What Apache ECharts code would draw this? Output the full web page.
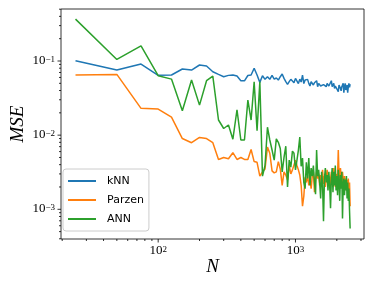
<!DOCTYPE html>
<html><head><meta charset="utf-8">
<script src="https://cdn.jsdelivr.net/npm/echarts@6/dist/echarts.min.js"></script>
<style>html,body{margin:0;padding:0;background:#fff}#c{width:373px;height:282px}</style>
</head><body><div id="c"></div>
<script>
const nValues = [25,50,75,100,125,150,175,200,225,250,275,300,325,350,375,400,425,450,475,500,
525,550,575,600,625,650,675,700,725,750,775,800,825,850,875,900,925,950,975,1000,
1025,1050,1075,1100,1125,1150,1175,1200,1225,1250,1275,1300,1325,1350,1375,1400,1425,1450,1475,1500,
1525,1550,1575,1600,1625,1650,1675,1700,1725,1750,1775,1800,1825,1850,1875,1900,1925,1950,1975,2000,
2025,2050,2075,2100,2125,2150,2175,2200,2225,2250,2275,2300,2325,2350,2375,2400,2425,2450,2475,2500];

const knn = [0.101,0.0756,0.091,0.064,0.0647,0.078,0.0755,0.0883,0.0856,0.0717,
0.066,0.0614,0.064,0.0647,0.0626,0.0542,0.054,0.0637,0.0647,0.0797,
0.0647,0.0515,0.0633,0.0566,0.0614,0.0566,0.064,0.057,0.059,0.0553,
0.0614,0.0667,0.0583,0.0526,0.0484,0.0526,0.0566,0.054,0.051,0.0583,
0.0553,0.0497,0.057,0.052,0.0647,0.0497,0.0553,0.052,0.0565,0.0499,
0.046,0.0525,0.0542,0.0474,0.0509,0.0489,0.0542,0.045,0.0499,0.0474,
0.046,0.0441,0.045,0.048,0.0474,0.046,0.045,0.0499,0.0525,0.046,
0.0441,0.0474,0.0542,0.045,0.0474,0.0499,0.0427,0.046,0.0441,0.0422,
0.0414,0.0385,0.0474,0.0499,0.0427,0.0397,0.045,0.0468,0.0499,0.0373,
0.045,0.0499,0.0406,0.0385,0.0474,0.0373,0.045,0.0499,0.0441,0.0489];

const parzen = [0.0647,0.066,0.023,0.0225,0.0175,0.009,0.0079,0.0093,0.009,0.0079,
0.0047,0.005,0.0048,0.0058,0.0047,0.005,0.0047,0.0047,0.0064,0.0044,
0.0043,0.0028,0.0032,0.0035,0.0069,0.0057,0.0033,0.0031,0.0032,0.0044,
0.0035,0.0021,0.0032,0.0029,0.0025,0.0039,0.003,0.0034,0.0035,0.0046,
0.0039,0.0034,0.0029,0.0021,0.0011,0.0015,0.0027,0.0023,0.0029,0.0021,
0.0025,0.0019,0.0028,0.0032,0.0017,0.0025,0.0032,0.0026,0.003,0.0021,
0.0029,0.0025,0.0034,0.0022,0.0028,0.002,0.0026,0.0034,0.0023,0.0028,
0.0019,0.0025,0.0032,0.0021,0.0029,0.0036,0.0025,0.002,0.003,0.0023,
0.0028,0.0063,0.003,0.0026,0.0036,0.0028,0.0023,0.0032,0.0025,0.002,
0.0028,0.0022,0.0026,0.0018,0.0025,0.002,0.0026,0.0017,0.0023,0.0011];

const ann = [0.367,0.105,0.16,0.0633,0.057,0.0213,0.0553,0.0254,0.0542,0.0626,
0.016,0.0123,0.0137,0.0088,0.022,0.0086,0.0086,0.0297,0.016,0.0525,
0.0115,0.0525,0.0028,0.0039,0.0128,0.0086,0.0063,0.0046,0.0089,0.008,
0.0066,0.0032,0.005,0.0071,0.002,0.0046,0.0037,0.0061,0.0057,0.0034,
0.0046,0.0063,0.0094,0.0038,0.0049,0.0023,0.0019,0.0043,0.0026,0.0049,
0.0021,0.0036,0.0028,0.0039,0.0023,0.0016,0.0063,0.0028,0.0034,0.0023,
0.0014,0.0032,0.0021,0.00069,0.0026,0.0036,0.0023,0.0029,0.0018,0.0032,
0.0021,0.00103,0.0026,0.0036,0.0017,0.0032,0.0021,0.0039,0.0018,0.0028,
0.00155,0.0034,0.0023,0.0013,0.0029,0.0019,0.0032,0.00075,0.0021,0.0026,
0.00155,0.0025,0.0018,0.0028,0.0014,0.0023,0.0013,0.0019,0.00097,0.00055];

const seriesNames = ['kNN', 'Parzen', 'ANN'];
const seriesColors = ['#1f77b4', '#ff7f0e', '#2ca02c'];
const xTickMajor = [100, 1000];
const yTickMajor = [0.001, 0.01, 0.1];

const X_MIN = 19.6, X_MAX = 3155;
const Y_MIN = 3.976e-4, Y_MAX = 0.5027;

function minorTicks(lo, hi) {
  const out = [];
  for (let e = -5; e <= 5; e++) {
    for (let k = 2; k <= 9; k++) {
      const v = k * Math.pow(10, e);
      if (v >= lo && v <= hi) out.push(v);
    }
  }
  return out;
}
const xTickMinor = minorTicks(X_MIN, X_MAX);
const yTickMinor = minorTicks(Y_MIN, Y_MAX);

function powLabel(v) {
  const l = Math.log10(v);
  const e = Math.round(l);
  if (Math.abs(l - e) > 1e-6) return '';
  return '{b|10}{s|' + (e < 0 ? '\u2212' : '') + Math.abs(e) + '}';
}
const richLab = {
  b: { fontFamily: 'Liberation Serif', fontSize: 13, lineHeight: 12, color: '#000', verticalAlign: 'bottom' },
  s: { fontFamily: 'Liberation Serif', fontSize: 9, lineHeight: 12, color: '#000', verticalAlign: 'top' }
};

function tickSeries(values, axis, len) {
  return {
    type: 'custom', silent: true, clip: false, z: 10,
    data: values.map(v => axis === 'x' ? [v, Y_MIN] : [X_MIN, v]),
    renderItem: (params, api) => {
      const p = api.coord([api.value(0), api.value(1)]);
      const shape = axis === 'x'
        ? { x1: p[0], y1: p[1], x2: p[0], y2: p[1] + len }
        : { x1: p[0], y1: p[1], x2: p[0] - len, y2: p[1] };
      return { type: 'line', shape: shape, style: { stroke: '#000', lineWidth: 0.8 } };
    }
  };
}

const lineSeries = [knn, parzen, ann].map((arr, i) => ({
  name: seriesNames[i],
  type: 'line',
  showSymbol: false,
  symbol: 'none',
  data: nValues.map((n, j) => [n, arr[j]]),
  lineStyle: { color: seriesColors[i], width: 1.5 },
  itemStyle: { color: seriesColors[i] },
  z: 3 + i
}));

const chart = echarts.init(document.getElementById('c'), null, { renderer: 'canvas' });
chart.setOption({
  animation: false,
  backgroundColor: '#fff',
  grid: { left: 56, top: 9, width: 308, height: 230, show: true, borderColor: '#000', borderWidth: 0.8, backgroundColor: 'transparent' },
  xAxis: {
    type: 'log', logBase: 10, min: X_MIN, max: X_MAX,
    axisLine: { show: false }, axisTick: { show: false }, splitLine: { show: false }, minorTick: { show: false },
    axisLabel: { margin: 6, formatter: powLabel, rich: richLab, showMinLabel: true, showMaxLabel: true },
    name: 'N', nameLocation: 'middle', nameGap: 18, nameMoveOverlap: false,
    nameTextStyle: { fontFamily: 'Liberation Serif', fontStyle: 'italic', fontSize: 19, color: '#000' }
  },
  yAxis: {
    type: 'log', logBase: 10, min: Y_MIN, max: Y_MAX,
    axisLine: { show: false }, axisTick: { show: false }, splitLine: { show: false }, minorTick: { show: false },
    axisLabel: { margin: 6, formatter: powLabel, rich: richLab },
    name: 'MSE', nameLocation: 'middle', nameGap: 34, nameMoveOverlap: false,
    nameTextStyle: { fontFamily: 'Liberation Serif', fontStyle: 'italic', fontSize: 19, color: '#000' }
  },
  legend: {
    data: seriesNames,
    orient: 'vertical',
    left: 63, top: 169,
    icon: 'rect', itemWidth: 28, itemHeight: 2, itemGap: 5,
    padding: [5, 5, 5, 5],
    backgroundColor: 'rgba(255,255,255,0.8)',
    borderColor: '#cccccc', borderWidth: 1, borderRadius: 3,
    textStyle: { fontFamily: 'DejaVu Sans', fontSize: 11, lineHeight: 14, color: '#000', padding: [0, 0, 0, 6] }
  },
  series: lineSeries.concat([
    tickSeries(xTickMajor, 'x', 3.5),
    tickSeries(xTickMinor, 'x', 2),
    tickSeries(yTickMajor, 'y', 3.5),
    tickSeries(yTickMinor, 'y', 2)
  ])
});
</script>
</body></html>
